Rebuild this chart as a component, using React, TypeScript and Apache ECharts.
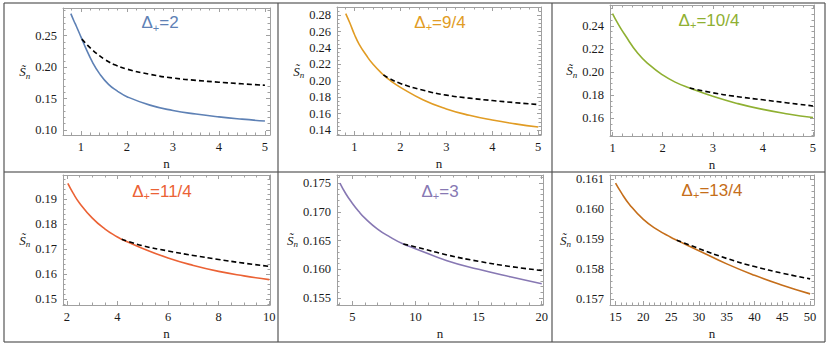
import React, { useEffect, useRef } from "react";
import * as echarts from "echarts";

// ---------- Data ----------
// Panel 1: Δ+ = 2
const nD2 = [0.78, 0.85, 0.9, 1.0, 1.1, 1.25, 1.4, 1.6, 1.8, 2.0, 2.5, 3.0, 3.5, 4.0, 4.5, 5.0];
const sD2 = [0.285, 0.273, 0.265, 0.248, 0.231, 0.208, 0.19, 0.1725, 0.1615, 0.153, 0.1395, 0.131, 0.1253, 0.1208, 0.1172, 0.1142];
const nAsym1 = [1.02, 1.1, 1.25, 1.4, 1.5, 1.63, 1.75, 2.0, 2.5, 3.0, 3.5, 4.0, 4.5, 5.0];
const sAsym1 = [0.2445, 0.238, 0.2272, 0.2182, 0.213, 0.2073, 0.2032, 0.1968, 0.1885, 0.1826, 0.1789, 0.176, 0.1734, 0.1711];

// Panel 2: Δ+ = 9/4
const nD94 = [0.81, 0.9, 1.0, 1.1, 1.25, 1.4, 1.63, 1.8, 2.0, 2.5, 3.0, 3.5, 4.0, 4.5, 5.0];
const sD94 = [0.282, 0.2705, 0.2565, 0.2448, 0.2318, 0.2205, 0.2073, 0.1995, 0.1921, 0.1767, 0.1658, 0.158, 0.1522, 0.1476, 0.1437];
const nAsym2 = [1.63, 1.75, 2.0, 2.5, 3.0, 3.5, 4.0, 4.5, 5.0];
const sAsym2 = [0.2073, 0.2032, 0.1968, 0.1885, 0.1826, 0.1789, 0.176, 0.1734, 0.1711];

// Panel 3: Δ+ = 10/4
const nD104 = [1.0, 1.1, 1.25, 1.5, 1.75, 2.0, 2.25, 2.54, 3.0, 3.5, 4.0, 4.5, 5.0];
const sD104 = [0.2505, 0.2425, 0.232, 0.2165, 0.2057, 0.1975, 0.1913, 0.1862, 0.179, 0.1727, 0.1677, 0.1638, 0.1607];
const nAsym3 = [2.54, 3.0, 3.5, 4.0, 4.5, 5.0];
const sAsym3 = [0.1862, 0.1821, 0.1787, 0.176, 0.1733, 0.1707];

// Panel 4: Δ+ = 11/4
const nD114 = [2.04, 2.25, 2.5, 3.0, 3.5, 4.0, 4.17, 5.0, 6.0, 7.0, 8.0, 9.0, 10.0];
const sD114 = [0.1964, 0.1925, 0.1886, 0.1826, 0.1782, 0.1749, 0.174, 0.1703, 0.1665, 0.1635, 0.1611, 0.1593, 0.1578];
const nAsym4 = [4.17, 5, 6, 7, 8, 9, 10];
const sAsym4 = [0.174, 0.1714, 0.1693, 0.1675, 0.1659, 0.1644, 0.1631];

// Panel 5: Δ+ = 3
const nD3 = [4.02, 4.5, 5, 5.5, 6, 7, 8, 9.04, 10, 12.5, 15, 17.5, 20];
const sD3 = [0.175, 0.1731, 0.1715, 0.1701, 0.1689, 0.167, 0.1656, 0.1644, 0.1636, 0.1615, 0.16, 0.1587, 0.1575];
const nAsym5 = [9.04, 10, 12.5, 15, 17.5, 20];
const sAsym5 = [0.1644, 0.1639, 0.1625, 0.1614, 0.1605, 0.1598];

// Panel 6: Δ+ = 13/4
const nD134 = [15, 16, 17.5, 20, 22.5, 25, 26, 30, 35, 40, 45, 50];
const sD134 = [0.16087, 0.16056, 0.16016, 0.15966, 0.15932, 0.15906, 0.15897, 0.15862, 0.15818, 0.1578, 0.15747, 0.15718];
const nAsym6 = [26, 30, 35, 40, 45, 50];
const sAsym6 = [0.15897, 0.15869, 0.15836, 0.15809, 0.15787, 0.15768];

// Tick labels
const xTicks1 = [1, 2, 3, 4, 5];
const yTicks1 = [0.1, 0.15, 0.2, 0.25];
const xTicks2 = [1, 2, 3, 4, 5];
const yTicks2 = [0.14, 0.16, 0.18, 0.2, 0.22, 0.24, 0.26, 0.28];
const xTicks3 = [1, 2, 3, 4, 5];
const yTicks3 = [0.16, 0.18, 0.2, 0.22, 0.24];
const xTicks4 = [2, 4, 6, 8, 10];
const yTicks4 = [0.15, 0.16, 0.17, 0.18, 0.19];
const xTicks5 = [5, 10, 15, 20];
const yTicks5 = [0.155, 0.16, 0.165, 0.17, 0.175];
const xTicks6 = [15, 20, 25, 30, 35, 40, 45, 50];
const yTicks6 = [0.157, 0.158, 0.159, 0.16, 0.161];

const panelTitles = ["2", "9/4", "10/4", "11/4", "3", "13/4"];
const panelColors = ["#5E81B5", "#E19C24", "#8FB032", "#EB6235", "#8778B3", "#C56E1A"];

// ---------- Layout / style ----------
const FRAME = "#a0a0a0";
const LABEL = "#1a1a1a";
const SERIF = "Liberation Serif";
const SANS = "Liberation Sans";

const panels = [
  { n: nD2, s: sD2, dn: nAsym1, ds: sAsym1, xt: xTicks1, yt: yTicks1, xm: 0.2, ym: 0.01, yDec: 2,
    xr: [0.61, 5.11], yr: [0.092, 0.294], box: [63, 8, 207, 127], title: [160, 22.5] },
  { n: nD94, s: sD94, dn: nAsym2, ds: sAsym2, xt: xTicks2, yt: yTicks2, xm: 0.2, ym: 0.005, yDec: 2,
    xr: [0.62, 5.06], yr: [0.134, 0.29], box: [337, 7, 204, 128], title: [440, 22] },
  { n: nD104, s: sD104, dn: nAsym3, ds: sAsym3, xt: xTicks3, yt: yTicks3, xm: 0.2, ym: 0.005, yDec: 2,
    xr: [0.95, 5.02], yr: [0.1447, 0.258], box: [610, 5, 204, 131], title: [709, 20] },
  { n: nD114, s: sD114, dn: nAsym4, ds: sAsym4, xt: xTicks4, yt: yTicks4, xm: 0.5, ym: 0.002, yDec: 2,
    xr: [1.85, 10.03], yr: [0.1476, 0.1998], box: [63, 175, 207, 130], title: [162, 191] },
  { n: nD3, s: sD3, dn: nAsym5, ds: sAsym5, xt: xTicks5, yt: yTicks5, xm: 1, ym: 0.001, yDec: 3,
    xr: [3.79, 20.1], yr: [0.1538, 0.1764], box: [337, 175, 206, 130], title: [440, 191] },
  { n: nD134, s: sD134, dn: nAsym6, ds: sAsym6, xt: xTicks6, yt: yTicks6, xm: 1, ym: 0.0002, yDec: 3,
    xr: [14.0, 50.7], yr: [0.15681, 0.16114], box: [610, 175, 204, 130], title: [712, 190] },
];

function minorTicks(min: number, max: number, step: number, majors: number[]) {
  const out: number[] = [];
  const k0 = Math.ceil(min / step - 1e-9);
  const k1 = Math.floor(max / step + 1e-9);
  for (let k = k0; k <= k1; k++) {
    const v = parseFloat((k * step).toFixed(8));
    if (!majors.some((m) => Math.abs(m - v) < step * 1e-3)) out.push(v);
  }
  return out;
}

function buildOption() {
  const grid: any[] = [];
  const xAxis: any[] = [];
  const yAxis: any[] = [];
  const series: any[] = [];
  const graphic: any[] = [];
  const lineStyle = { color: FRAME, width: 1 };

  panels.forEach((p, i) => {
    grid.push({ left: p.box[0], top: p.box[1], width: p.box[2], height: p.box[3] });
    const xMin = minorTicks(p.xr[0], p.xr[1], p.xm, p.xt);
    const yMin = minorTicks(p.yr[0], p.yr[1], p.ym, p.yt);
    const baseX = { gridIndex: i, type: "value", min: p.xr[0], max: p.xr[1], splitLine: { show: false } };
    const baseY = { gridIndex: i, type: "value", min: p.yr[0], max: p.yr[1], splitLine: { show: false } };

    xAxis.push({
      ...baseX, position: "bottom",
      axisLine: { show: true, onZero: false, lineStyle },
      axisTick: { show: true, inside: true, length: 4, customValues: p.xt, lineStyle },
      axisLabel: { show: true, customValues: p.xt, formatter: (v: number) => String(v), margin: 5,
        fontFamily: SERIF, fontSize: 12.5, color: LABEL },
      name: "n", nameLocation: "middle", nameGap: 22,
      nameTextStyle: { fontFamily: SERIF, fontSize: 13, color: LABEL },
    });
    xAxis.push({
      ...baseX, position: "bottom",
      axisLine: { show: false, onZero: false },
      axisTick: { show: true, inside: true, length: 2.5, customValues: xMin, lineStyle },
      axisLabel: { show: false },
    });
    xAxis.push({
      ...baseX, position: "top",
      axisLine: { show: true, onZero: false, lineStyle },
      axisTick: { show: true, inside: true, length: 4, customValues: p.xt, lineStyle },
      axisLabel: { show: false },
    });
    xAxis.push({
      ...baseX, position: "top",
      axisLine: { show: false, onZero: false },
      axisTick: { show: true, inside: true, length: 2.5, customValues: xMin, lineStyle },
      axisLabel: { show: false },
    });

    yAxis.push({
      ...baseY, position: "left",
      axisLine: { show: true, onZero: false, lineStyle },
      axisTick: { show: true, inside: true, length: 4, customValues: p.yt, lineStyle },
      axisLabel: { show: true, customValues: p.yt, formatter: (v: number) => v.toFixed(p.yDec), margin: 6,
        fontFamily: SERIF, fontSize: 12.5, color: LABEL },
      name: "{s|S\u0303}{n|n}", nameLocation: "middle", nameRotate: 0, nameGap: 31,
      nameTextStyle: {
        color: LABEL,
        fontFamily: SERIF,
        rich: {
          s: { fontFamily: SERIF, fontStyle: "italic", fontSize: 13, color: LABEL },
          n: { fontFamily: SERIF, fontStyle: "italic", fontSize: 9, color: LABEL, padding: [8, 0, 0, 0] },
        },
      },
    });
    yAxis.push({
      ...baseY, position: "left",
      axisLine: { show: false, onZero: false },
      axisTick: { show: true, inside: true, length: 2.5, customValues: yMin, lineStyle },
      axisLabel: { show: false },
    });
    yAxis.push({
      ...baseY, position: "right",
      axisLine: { show: true, onZero: false, lineStyle },
      axisTick: { show: true, inside: true, length: 4, customValues: p.yt, lineStyle },
      axisLabel: { show: false },
    });
    yAxis.push({
      ...baseY, position: "right",
      axisLine: { show: false, onZero: false },
      axisTick: { show: true, inside: true, length: 2.5, customValues: yMin, lineStyle },
      axisLabel: { show: false },
    });

    series.push({
      type: "line", xAxisIndex: i * 4, yAxisIndex: i * 4,
      data: p.n.map((v, k) => [v, p.s[k]]),
      symbol: "none", smooth: 0.5,
      lineStyle: { color: panelColors[i], width: 1.6 }, z: 3,
    });
    series.push({
      type: "line", xAxisIndex: i * 4, yAxisIndex: i * 4,
      data: p.dn.map((v, k) => [v, p.ds[k]]),
      symbol: "none", smooth: 0.5,
      lineStyle: { color: "#000", width: 1.6, type: [5, 3] }, z: 4,
    });

    graphic.push({
      type: "text", x: p.title[0], y: p.title[1], z: 10,
      style: {
        text: `{d|\u0394}{p|+}{d|=${panelTitles[i]}}`,
        align: "center", verticalAlign: "middle",
        rich: {
          d: { fontFamily: SANS, fontSize: 17, fill: panelColors[i], color: panelColors[i] },
          p: { fontFamily: SANS, fontSize: 11, fill: panelColors[i], color: panelColors[i], padding: [10, 0, 0, 0] },
        },
      },
    });
  });

  // Panel borders
  const hLine = (y: number) => ({ type: "line", z: 20, shape: { x1: 4, y1: y, x2: 825, y2: y }, style: { stroke: "#9a9a9a", lineWidth: 2 } });
  const vLine = (x: number) => ({ type: "line", z: 20, shape: { x1: x, y1: 3, x2: x, y2: 342 }, style: { stroke: "#555", lineWidth: 1.2 } });
  graphic.push(hLine(3), hLine(172), hLine(342), vLine(4), vLine(278), vLine(552), vLine(825));

  return {
    animation: false,
    backgroundColor: "#ffffff",
    grid, xAxis, yAxis, series, graphic,
  };
}

export default function App() {
  const ref = useRef<HTMLDivElement>(null);
  useEffect(() => {
    if (!ref.current) return;
    const chart = echarts.init(ref.current, undefined, { renderer: "svg" });
    chart.setOption(buildOption() as any);
    return () => chart.dispose();
  }, []);
  return (
    <div
      ref={ref}
      style={{ position: "absolute", left: 0, top: 0, width: 830, height: 346, background: "#fff" }}
    />
  );
}
